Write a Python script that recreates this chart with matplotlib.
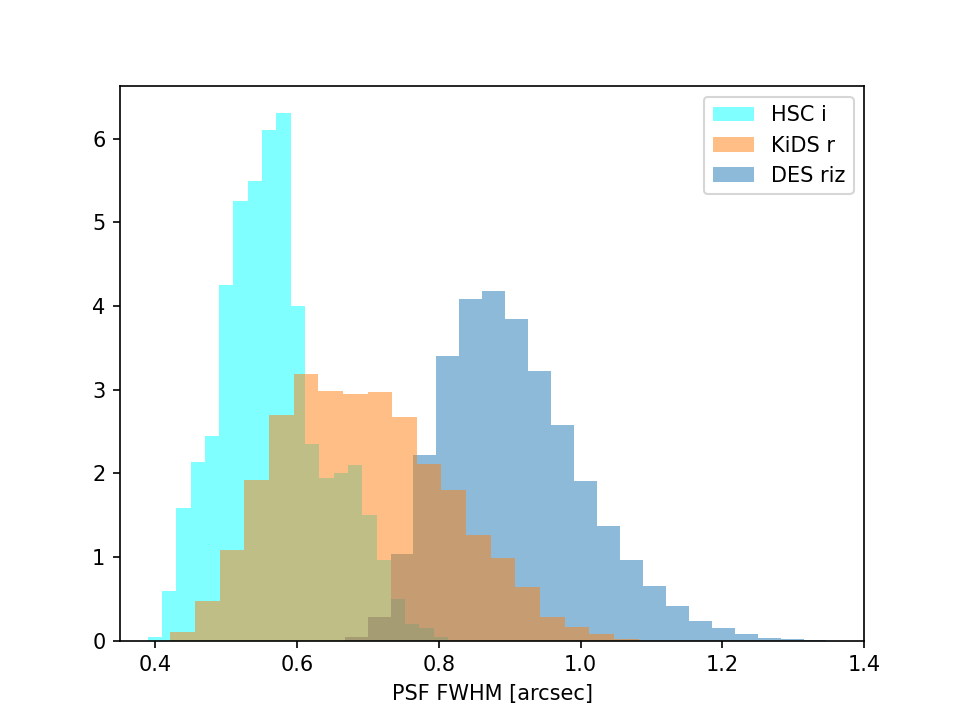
import numpy as np
import matplotlib
matplotlib.use("Agg")
import matplotlib.pyplot as plt

# density values, one per bin
hsc_heights = [0.04, 0.59, 1.59, 2.14, 2.45, 4.25, 5.25, 5.50, 6.11, 6.31,
               4.00, 2.35, 1.95, 2.00, 2.10, 1.50, 0.96, 0.50, 0.20, 0.15, 0.05]
kids_heights = [0.10, 0.48, 1.09, 1.92, 2.70, 3.19, 2.99, 2.95, 2.97, 2.67,
                2.11, 1.80, 1.27, 0.99, 0.64, 0.29, 0.16, 0.08, 0.02]
des_heights = [0.05, 0.29, 1.04, 2.22, 3.40, 4.08, 4.18, 3.84, 3.23, 2.58,
               1.91, 1.37, 0.96, 0.65, 0.41, 0.24, 0.15, 0.08, 0.03, 0.018, 0.01]

# uniform bins: (first edge, last edge)
hsc_range  = (0.389, 0.813)
kids_range = (0.421, 1.082)
des_range  = (0.667, 1.347)

labels = ["HSC i", "KiDS r", "DES riz"]
colors = ["cyan", "C1", "C0"]


def edges(rng, n):
    return np.linspace(rng[0], rng[1], n + 1)


fig, ax = plt.subplots(figsize=(6.4, 4.8), dpi=150)

series = [hsc_heights, kids_heights, des_heights]
ranges = [hsc_range, kids_range, des_range]
handles = [None] * 3
# KiDS sits on top of DES in the original, so draw it last
for i in [0, 2, 1]:
    b = edges(ranges[i], len(series[i]))
    _, _, patches = ax.hist(b[:-1], bins=b, weights=series[i], alpha=0.5,
                            color=colors[i], label=labels[i])
    handles[i] = patches

ax.set_xlim(0.35, 1.4)
ax.set_xticks([0.4, 0.6, 0.8, 1.0, 1.2, 1.4])
ax.set_xlabel("PSF FWHM [arcsec]")
ax.legend(handles, labels, loc="upper right")

fig.savefig("out.png", dpi=150)
